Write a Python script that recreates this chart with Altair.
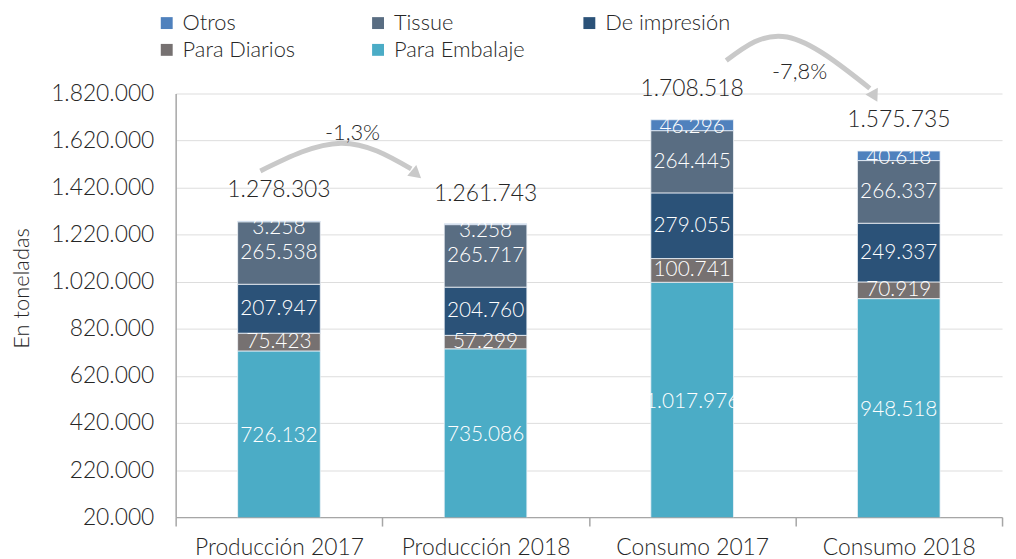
import altair as alt
import pandas as pd

categories = ["Producción 2017", "Producción 2018", "Consumo 2017", "Consumo 2018"]
series = ["Otros", "Tissue", "De impresión", "Para Diarios", "Para Embalaje"]
colors = ["#4F81BD", "#596D82", "#2B5278", "#767171", "#4BACC6"]

embalaje = [726132, 735086, 1017976, 948518]
diarios = [75423, 57299, 100741, 70919]
impresion = [207947, 204760, 279055, 249337]
tissue = [265538, 265717, 264445, 266337]
otros = [3258, 3258, 46296, 40618]
totals = [1278303, 1261743, 1708518, 1575735]

y_ticks = [20000 + 200000 * i for i in range(10)]


def fmt(v):
    return f"{v:,}".replace(",", ".")


# stacked segments, bottom to top
stack_order = [("Para Embalaje", embalaje), ("Para Diarios", diarios),
               ("De impresión", impresion), ("Tissue", tissue), ("Otros", otros)]
rows = []
for ci, cat in enumerate(categories):
    base = 0
    for k, (name, vals) in enumerate(stack_order):
        v = vals[ci]
        top = base + v
        if name == "Otros":
            mid = top - max(v / 2, 32000)
        else:
            mid = base + v / 2
        rows.append({"cat": cat, "serie": name, "value": v, "k": k,
                     "mid": mid, "label": fmt(v)})
        base = top
seg = pd.DataFrame(rows)

tot = pd.DataFrame({"cat": categories, "total": totals,
                    "label": [fmt(t) for t in totals]})

# annotation arrows (x in category units, y in data units)
arrow_id = ["a1", "a1", "a1", "a2", "a2", "a2"]
arrow_u = [0.41, 0.80, 1.14, 2.665, 2.96, 3.36]
arrow_v = [1491000, 1609000, 1500000, 1960000, 2060000, 1842000]
head_u = [1.158, 3.378]
head_v = [1482000, 1815000]
head_angle = [130, 152]
pct_u = [0.856, 3.02]
pct_v = [1650000, 1910000]
pct_text = [f"{(totals[1] / totals[0] - 1) * 100:.1f}".replace(".", ",") + "%",
            f"{(totals[3] / totals[2] - 1) * 100:.1f}".replace(".", ",") + "%"]

arrows = pd.DataFrame({"id": arrow_id, "u": arrow_u, "v": arrow_v,
                       "o": list(range(len(arrow_u)))})
heads = pd.DataFrame({"u": head_u, "v": head_v, "ang": head_angle})
pcts = pd.DataFrame({"u": pct_u, "v": pct_v, "t": pct_text})

FW = 300
YT = "En toneladas"
yscale = alt.Scale(domain=[20000, 1820000], nice=False, zero=False)
xscale = alt.Scale(domain=categories, paddingInner=0, paddingOuter=0)

bars = alt.Chart(seg).mark_bar(
    width=alt.RelativeBandSize(0.4), clip=True, stroke="#eef3f8", strokeWidth=0.8
).encode(
    x=alt.X("cat:N", sort=categories, scale=xscale, title=None,
            axis=alt.Axis(labelAngle=0, tickBand="extent", tickSize=9,
                          labelFontSize=23, labelPadding=11, labelColor="#262626",
                          labelFontWeight=FW,
                          domainColor="#a6a6a6", tickColor="#a6a6a6",
                          domainWidth=1.5, tickWidth=1.5, labelLimit=300)),
    y=alt.Y("value:Q", stack="zero", scale=yscale, title=YT,
            axis=alt.Axis(values=y_ticks, ticks=False, labelPadding=22,
                          labelFontSize=23, labelColor="#262626",
                          labelFontWeight=FW,
                          labelExpr="replace(format(datum.value, ','), regexp(',', 'g'), '.')",
                          domainColor="#a6a6a6", domainWidth=1.5,
                          titleFontSize=22, titleFontWeight=FW,
                          titleColor="#262626", titleX=-155, titleY=196,
                          titleBaseline="middle")),
    color=alt.Color("serie:N", scale=alt.Scale(domain=series, range=colors),
                    legend=alt.Legend(orient="none", legendX=-20, legendY=-82,
                                      direction="horizontal",
                                      columns=3, title=None, symbolType="square",
                                      symbolSize=144, symbolStrokeWidth=0,
                                      labelFontSize=22, labelColor="#262626",
                                      labelFontWeight=FW,
                                      columnPadding=54, rowPadding=5,
                                      gridAlign="all", labelOffset=5,
                                      labelLimit=300)),
    order=alt.Order("k:Q"),
)

seg_labels = alt.Chart(seg).mark_text(
    color="white", fontSize=21, baseline="middle", fontWeight=FW
).encode(
    x=alt.X("cat:N", sort=categories, scale=xscale, title=None),
    y=alt.Y("mid:Q", scale=yscale, title=YT),
    text="label:N",
)

tot_labels = alt.Chart(tot).mark_text(
    color="#262626", fontSize=23, baseline="middle", dy=-31, fontWeight=FW
).encode(
    x=alt.X("cat:N", sort=categories, scale=xscale, title=None),
    y=alt.Y("total:Q", scale=yscale, title=YT),
    text="label:N",
)

main = alt.layer(bars, seg_labels, tot_labels)

uscale = alt.Scale(domain=[0, 4], nice=False, zero=False)

arrow_lines = alt.Chart(arrows).mark_line(
    interpolate="natural", strokeWidth=5, color="#c9c9c9", clip=False
).encode(
    x=alt.X("u:Q", scale=uscale, axis=None),
    y=alt.Y("v:Q", scale=yscale, title=YT),
    detail="id:N",
    order="o:Q",
)

arrow_heads = alt.Chart(heads).mark_point(
    shape="triangle", filled=True, size=200, color="#c9c9c9", opacity=1
).encode(
    x=alt.X("u:Q", scale=uscale, axis=None),
    y=alt.Y("v:Q", scale=yscale, title=YT),
    angle=alt.Angle("ang:Q", scale=None),
)

pct_labels = alt.Chart(pcts).mark_text(
    color="#262626", fontSize=22, baseline="middle", fontWeight=FW
).encode(
    x=alt.X("u:Q", scale=uscale, axis=None),
    y=alt.Y("v:Q", scale=yscale, title=YT),
    text="t:N",
)

ann = alt.layer(arrow_lines, arrow_heads, pct_labels)

chart = alt.layer(main, ann).resolve_scale(x="independent").properties(
    width=833, height=427,
    padding={"left": 169, "top": 84, "right": 6, "bottom": 40},
    autosize=alt.AutoSizeParams(type="none"),
).configure(font="Lato").configure_view(stroke=None)

chart.save("out.html", embed_options={"renderer": "svg", "actions": False})
